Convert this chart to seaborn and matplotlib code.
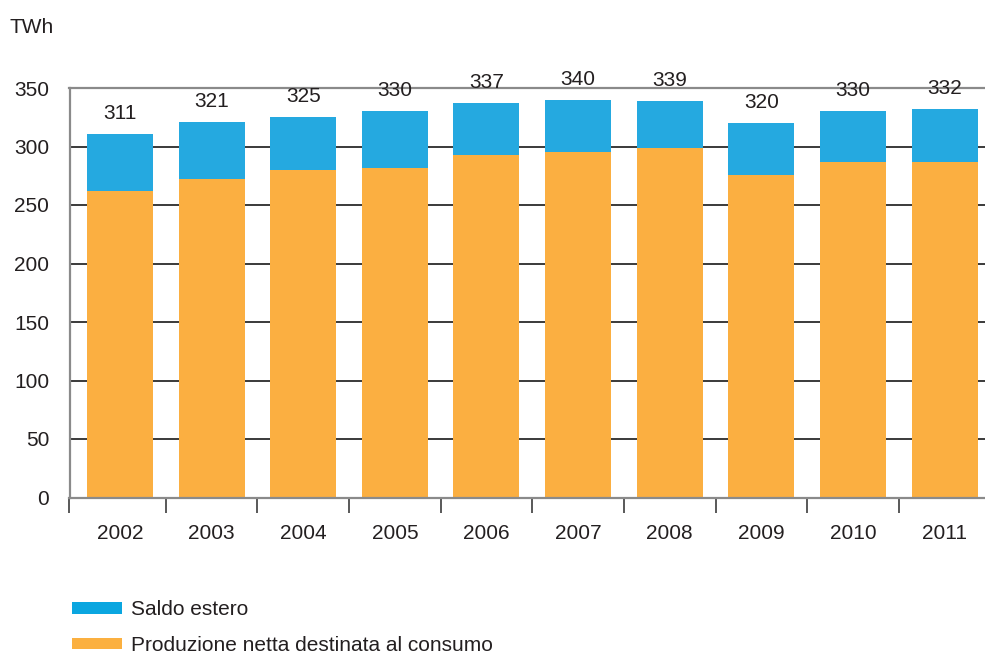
import matplotlib
matplotlib.use("Agg")
import matplotlib.pyplot as plt
from matplotlib.patches import Patch
import seaborn as sns
import pandas as pd

# Electricity demand in Italy, TWh
years = ["2002", "2003", "2004", "2005", "2006", "2007", "2008", "2009", "2010", "2011"]
totals = [311, 321, 325, 330, 337, 340, 339, 320, 330, 332]
saldo_estero = [49, 49, 45, 48, 44, 45, 40, 44, 43, 45]
produzione = [262, 272, 280, 282, 293, 295, 299, 276, 287, 287]
y_ticks = [0, 50, 100, 150, 200, 250, 300, 350]

BLUE = "#25a9e0"
ORANGE = "#fbaf41"
TEXT = "#231f20"

sns.set_theme(style="white")
plt.rcParams["font.family"] = ["Liberation Sans", "DejaVu Sans"]

df = pd.DataFrame({
    "anno": years,
    "produzione": produzione,
    "totale": [p + s for p, s in zip(produzione, saldo_estero)],
    "etichetta": totals,
})

fig = plt.figure(figsize=(9.85, 6.55), dpi=100)
ax = fig.add_axes([69.5 / 985, 1 - 497.5 / 655, 1 - 69.5 / 985, (497.5 - 88) / 655])

# stacked bars: full height in blue, production drawn over it in orange
sns.barplot(data=df, x="anno", y="totale", color=BLUE, saturation=1,
            width=0.72, ax=ax, zorder=3, linewidth=0)
total_container = ax.containers[0]
sns.barplot(data=df, x="anno", y="produzione", color=ORANGE, saturation=1,
            width=0.72, ax=ax, zorder=3, linewidth=0)

value_labels = ax.bar_label(total_container, labels=[str(v) for v in df["etichetta"]],
                            padding=8, fontsize=15, color=TEXT)
for t in value_labels:
    t.set_zorder(6)
    t.set_clip_on(False)

ax.set_xlim(-0.55, 9.44)
ax.set_ylim(0, 350)
ax.set_yticks(y_ticks)
ax.set_xlabel("")
ax.set_ylabel("")

ax.set_axisbelow(True)
ax.yaxis.grid(True, color="#2b2b2b", linewidth=1.3)
ax.xaxis.grid(False)

for side in ("left", "bottom", "top"):
    ax.spines[side].set_visible(True)
    ax.spines[side].set_color("#8a8a8a")
    ax.spines[side].set_linewidth(1.6)
    ax.spines[side].set_zorder(4)
ax.spines["right"].set_visible(False)

ax.tick_params(axis="y", length=0, pad=14.5, labelsize=15, labelcolor=TEXT)
ax.tick_params(axis="x", which="major", length=0, pad=19, labelsize=15, labelcolor=TEXT)
ax.set_xticks([-0.55] + [i + 0.5 for i in range(len(years) - 1)], minor=True)
ax.tick_params(axis="x", which="minor", bottom=True, length=10.5, width=1.1,
               color="#2b2b2b", direction="out")

fig.text(10 / 985, 1 - 33 / 655, "TWh", fontsize=15, color=TEXT, ha="left", va="baseline")

handles = [Patch(facecolor="#0aa6e0", edgecolor="none", label="Saldo estero"),
           Patch(facecolor="#fbb040", edgecolor="none", label="Produzione netta destinata al consumo")]
fig.legend(handles=handles, loc="upper left", bbox_to_anchor=(64 / 985, 1 - 592 / 655),
           frameon=False, fontsize=15, handlelength=2.4, handleheight=0.48,
           handletextpad=0.4, labelspacing=0.8, labelcolor=TEXT, borderaxespad=0)

fig.savefig("out.png", dpi=100)
